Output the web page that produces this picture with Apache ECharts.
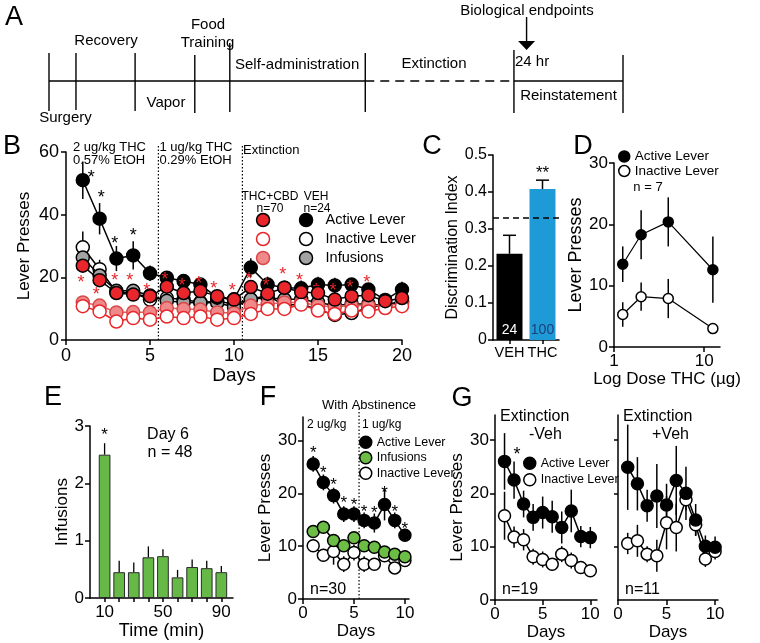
<!DOCTYPE html>
<html><head><meta charset="utf-8">
<script src="https://cdn.jsdelivr.net/npm/echarts@6/dist/echarts.min.js"></script>
<style>html,body{margin:0;padding:0;background:#fff}#c{width:760px;height:643px}</style>
</head><body><div id="c"></div>
<script>
const FONT = '"Liberation Sans", Arial, Helvetica, sans-serif';

// ---------- Panel A: timeline (schematic units) ----------
const tlTicks = [[0,28,-30],[4.7,28,-29],[15.0,28,-30],[25.4,26,-32],[31.5,38,-31],[55.1,28,-31],[81.0,31,-32],[100,26,-32]];
const tlSolid = [[0,55.1],[81.0,100]];
const tlDashed = [[55.1,81.0]];
const tlArrow = [[83.2,64,31]];

// ---------- Panel B ----------
const daysB = [1,2,3,4,5,6,7,8,9,10,11,12,13,14,15,16,17,18,19,20];
const bVehActive   = [51,38.7,26,27,21.3,19.9,18.8,17.7,13.5,13,23.1,17.7,16.7,16.5,17.7,17.4,17.7,16.1,12.8,16.1];
const bVehActiveErr= [6,5,4,4.5,2.5,2,2,2,2,2,3,2.5,2,2.5,2.5,2.5,2,2,2,2.5];
const bVehInactive = [29.6,22.6,15.3,15,12.9,13.4,12.9,12,12.4,11.5,12.9,14.3,11,11.5,9.7,8,8.6,10.3,11.3,12.3];
const bVehInactiveErr = [5,3,1.5,1.5,1,1,1,1,1,1,1.5,1.5,1,1,1,1,1,1,1.5,1.5];
const bVehInf      = [26.3,20.6,15.7,15.7,14.2,12.5,12,11.9,11.9,10.5,13,13.5,13,13,12,11,11.5,11.5,11,12];
const bThcActive   = [23.7,19.1,15,14.5,14,17,15,15.6,14,12.9,16.9,14.8,16.7,15.3,15,12.9,14,14.3,12.4,13.4];
const bThcInf      = [12,11,8.8,8.9,8.8,10.2,9.9,9.7,8.8,8.6,11,11.5,12,12,11,10.5,11,11,11,11.5];
const bThcInactive = [10.8,9.1,5.9,7,6.5,7.5,7,7.5,6.5,7,8.3,9.9,9.9,11.3,9.4,8.3,9.4,9.1,10.2,10.8];
const bBlackStars  = [[1.5,53],[2.1,46.5],[2.9,32],[4.0,34.5]];
const bRedStars    = [[0.9,19.5],[1.8,15.5],[2.9,20],[3.8,20],[4.8,17],[5.9,20.5],[6.9,18.5],[7.9,19],[8.8,17.5],[9.9,17],[10.9,20.5],[11.9,18.5],[12.9,22],[13.9,20],[14.9,17],[15.9,17],[16.9,18],[17.9,19.5]];
const bPhaseLines  = [5.5, 10.5];

// ---------- Panel C ----------
const cCats = ['VEH','THC'];
const cValues = [0.233, 0.408];
const cErr = [0.05, 0.024];
const cN = ['24','100'];
const cChance = 0.33;

// ---------- Panel D ----------
const dDoses = [1.25, 2, 4, 12.5];
const dActive = [13.5, 18.3, 20.4, 12.6];
const dActiveErr = [2.9, 4, 4, 5.4];
const dInactive = [5.3, 8.2, 7.9, 3.0];
const dInactiveErr = [2, 2.3, 3.2, 0.8];
const dDoseTicks = [1, 10];
const dDoseMax = 15;

// ---------- Panel E ----------
const eTimes = [10,20,30,40,50,60,70,80,90];
const eValues = [2.5,0.45,0.45,0.71,0.73,0.36,0.54,0.52,0.45];
const eErr = [0.2,0.2,0.17,0.19,0.12,0.13,0.13,0.13,0.11];
const eStars = [[10,2.9]];

// ---------- Panel F ----------
const daysF = [1,2,3,4,5,6,7,8,9,10];
const fActive = [25.6,22.1,19.6,16.1,16.1,14.9,14.4,17.9,14.9,12.1];
const fActiveErr = [1.5,1.5,1.5,1.5,1.5,1.5,1.8,3,1.5,1.2];
const fInf = [12.8,13.6,11.1,10.1,11.6,10.1,9.8,8.9,8.5,8.0];
const fInfErr = [0.8,0.8,0.8,0.8,0.8,0.8,0.8,0.8,0.8,0.8];
const fInactive = [10.1,8.3,9.0,6.6,8.8,6.6,6.6,8.2,5.9,7.3];
const fInactiveErr = [1.2,1.2,2.5,1.5,1.5,1.5,1,1.2,1,1.2];
const fStars = [[1,28.3],[2,24.5],[3,22.3],[4,18.8],[5,18.5],[6,17.2],[7,16.9],[8,20.8],[9,17.2],[10,14]];
const fPhaseLine = 5.5;

// ---------- Panel G ----------
const daysG = [1,2,3,4,5,6,7,8,9,10];
const gNoVehActive = [26,22.5,18,15.5,16.4,15.6,13.6,16.7,11.9,11.7];
const gNoVehActiveErr = [5.3,3.5,2.5,2.5,3,3,3,4,2,2];
const gNoVehInactive = [15.8,11.8,11.3,8.1,7.6,6.7,8.6,7.4,6.1,5.5];
const gNoVehInactiveErr = [4.5,2,2,1.5,1.5,1.2,1.5,1.5,1,0.8];
const gVehActive = [24.9,21.8,17.7,19.5,17.8,22.4,20,15,10.1,9.9];
const gVehActiveErr = [8,5,3,6,4,6.5,5,3,2,2];
const gVehInactive = [10.6,11.1,8.6,8.3,14.5,13.6,18.8,14.1,7.7,9.1];
const gVehInactiveErr = [2,3,1.5,3,5,4.5,2,2,1.5,1.5];
const gStars = [[2.3,28]];

// ---------- helpers ----------
const RED = '#e8262b';
const log10 = v => Math.log10(v);
function axisCommon(extra) {
  return Object.assign({
    axisLine:{show:true, onZero:false, lineStyle:{color:'#000', width:1.5}},
    axisTick:{show:true, length:5, lineStyle:{color:'#000', width:1.5}},
    axisLabel:{color:'#000', fontFamily:FONT, fontSize:17, margin:7},
    splitLine:{show:false},
    nameTextStyle:{color:'#000', fontFamily:FONT, fontSize:17},
    nameLocation:'middle'
  }, extra);
}
function pts(xs, ys){ return xs.map((x,i)=>[x, ys[i]]); }
function pointSeries(name, gi, xs, ys, o) {
  return {type:'line', name, xAxisIndex:gi, yAxisIndex:gi, data:pts(xs,ys),
    symbol:'circle', symbolSize:o.size, showSymbol:true, showAllSymbol:true,
    itemStyle:{color:o.fill, borderColor:o.border, borderWidth:o.bw||1.5, opacity:1},
    lineStyle:{color:o.line, width:o.lw||1.5}, z:o.z||3, zlevel:0,
    emphasis:{disabled:true}, animation:false, clip:false};
}
function errSeries(gi, xs, ys, es, o) {
  o = o || {};
  return {type:'custom', xAxisIndex:gi, yAxisIndex:gi, silent:true, z:o.z||2, animation:false,
    data: xs.map((x,i)=>[x, ys[i], es[i]]),
    renderItem:(p, api)=>{
      const x=api.value(0), y=api.value(1), e=api.value(2);
      const lo = api.coord([x, o.up ? y : y-e]), hi = api.coord([x, y+e]);
      const children=[{type:'line', shape:{x1:lo[0],y1:lo[1],x2:hi[0],y2:hi[1]}, style:{stroke:o.color||'#000', lineWidth:o.w||1.5}}];
      if (o.cap) children.push({type:'line', shape:{x1:hi[0]-o.cap,y1:hi[1],x2:hi[0]+o.cap,y2:hi[1]}, style:{stroke:o.color||'#000', lineWidth:o.w||1.5}});
      return {type:'group', children};
    }};
}
function starSeries(gi, list, color, size, txt) {
  return {type:'custom', xAxisIndex:gi, yAxisIndex:gi, silent:true, z:6, animation:false, clip:false,
    data:list,
    renderItem:(p, api)=>{
      const c = api.coord([api.value(0), api.value(1)]);
      return {type:'text', x:c[0], y:c[1]+size*0.22, style:{text:txt||'*', fill:color, font:size+'px '+FONT, align:'center', verticalAlign:'middle'}};
    }};
}
function segSeries(gi, segs, style) {
  return {type:'custom', xAxisIndex:gi, yAxisIndex:gi, silent:true, clip:false, animation:false,
    data:segs,
    renderItem:(p, api)=>{
      const a=api.coord([api.value(0),api.value(1)]), b=api.coord([api.value(2),api.value(3)]);
      return {type:'line', shape:{x1:a[0],y1:a[1],x2:b[0],y2:b[1]}, style:Object.assign({stroke:'#000', lineWidth:1.4}, style)};
    }};
}
function txt(text, x, y, size, align, extra) {
  return Object.assign({type:'text', x, y, silent:true, z:10,
    style:{text, fill:'#000', font:size+'px '+FONT, textAlign:align||'center', textVerticalAlign:'middle'}}, extra||{});
}

// ---------- grids ----------
const grids = [
  {left:49, top:1, width:574, height:120},   // A
  {left:66, top:152, width:336, height:188}, // B
  {left:493, top:155, width:66, height:185}, // C
  {left:614, top:163, width:106, height:184},// D
  {left:90, top:426, width:143, height:172}, // E
  {left:303, top:417, width:106, height:182},// F
  {left:495, top:415, width:102, height:185},// G left
  {left:618, top:415, width:100, height:185} // G right
];

const xAxes = [
  {type:'value', gridIndex:0, min:0, max:100, show:false},
  axisCommon({type:'value', gridIndex:1, min:0, max:20, interval:5, name:'Days', nameGap:25, nameTextStyle:{color:'#000',fontFamily:FONT,fontSize:19}, axisLabel:{color:'#000',fontFamily:FONT,fontSize:18,margin:7}}),
  axisCommon({type:'category', gridIndex:2, data:cCats, axisTick:{show:true,alignWithLabel:true,interval:0,length:4,lineStyle:{color:'#000',width:1.5}}, axisLabel:{color:'#000',fontFamily:FONT,fontSize:14.5,margin:5,interval:0}}),
  // log10 dose axis
  axisCommon({type:'value', gridIndex:3, min:0, max:log10(dDoseMax), name:'Log Dose THC (µg)', nameGap:18,
    axisLabel:{color:'#000',fontFamily:FONT,fontSize:17,margin:6, customValues:dDoseTicks.map(log10), formatter:v=>String(Math.round(Math.pow(10,v)))},
    axisTick:{show:true,length:5,lineStyle:{color:'#000',width:1.5}, customValues:dDoseTicks.map(log10)}}),
  axisCommon({type:'value', gridIndex:4, min:0, max:98, name:'Time (min)', nameGap:19, nameTextStyle:{color:'#000',fontFamily:FONT,fontSize:18}, axisLabel:{color:'#000',fontFamily:FONT,fontSize:17,margin:6, customValues:[10,50,90]}, axisTick:{show:true,length:4,lineStyle:{color:'#000',width:1.5}, customValues:eTimes}}),
  axisCommon({type:'value', gridIndex:5, min:0, max:10.4, name:'Days', nameGap:19, axisLabel:{color:'#000',fontFamily:FONT,fontSize:17,margin:6, customValues:[0,5,10]}, axisTick:{show:true,length:5,lineStyle:{color:'#000',width:1.5}, customValues:[0,5,10]}}),
  axisCommon({type:'value', gridIndex:6, min:0, max:10.7, name:'Days', nameGap:14, axisLabel:{color:'#000',fontFamily:FONT,fontSize:17,margin:6, customValues:[0,5,10]}, axisTick:{show:true,length:5,lineStyle:{color:'#000',width:1.5}, customValues:[0,5,10]}}),
  axisCommon({type:'value', gridIndex:7, min:0, max:10.3, name:'Days', nameGap:14, axisLabel:{color:'#000',fontFamily:FONT,fontSize:17,margin:6, customValues:[0,5,10]}, axisTick:{show:true,length:5,lineStyle:{color:'#000',width:1.5}, customValues:[0,5,10]}})
];
const yAxes = [
  {type:'value', gridIndex:0, min:-40, max:80, show:false},
  axisCommon({type:'value', gridIndex:1, min:0, max:60, interval:20, name:'Lever Presses', nameGap:33, axisLabel:{color:'#000',fontFamily:FONT,fontSize:18,margin:7}}),
  axisCommon({type:'value', gridIndex:2, min:0, max:0.5, interval:0.1, name:'Discrimination Index', nameGap:30, nameTextStyle:{color:'#000',fontFamily:FONT,fontSize:16}, axisLabel:{color:'#000',fontFamily:FONT,fontSize:16,margin:6, formatter:v=>v===0?'0':v.toFixed(1)}}),
  axisCommon({type:'value', gridIndex:3, min:0, max:30, interval:10, name:'Lever Presses', nameGap:19, nameTextStyle:{color:'#000',fontFamily:FONT,fontSize:18}, axisLabel:{color:'#000',fontFamily:FONT,fontSize:17,margin:6}}),
  axisCommon({type:'value', gridIndex:4, min:0, max:3, interval:1, name:'Infusions', nameGap:18, axisLabel:{color:'#000',fontFamily:FONT,fontSize:17,margin:6}}),
  axisCommon({type:'value', gridIndex:5, min:0, max:34.5, name:'Lever Presses', nameGap:28, axisLabel:{color:'#000',fontFamily:FONT,fontSize:17,margin:6, customValues:[0,10,20,30]}, axisTick:{show:true,length:5,lineStyle:{color:'#000',width:1.5}, customValues:[0,10,20,30]}}),
  axisCommon({type:'value', gridIndex:6, min:0, max:34.7, name:'Lever Presses', nameGap:28, axisLabel:{color:'#000',fontFamily:FONT,fontSize:17,margin:6, customValues:[0,10,20,30]}, axisTick:{show:true,length:5,lineStyle:{color:'#000',width:1.5}, customValues:[0,10,20,30]}}),
  axisCommon({type:'value', gridIndex:7, min:0, max:34.7, axisLabel:{show:false, customValues:[0,10,20,30]}, axisTick:{show:true,length:4,lineStyle:{color:'#000',width:1.5}, customValues:[10,20,30]}})
];

const series = [];
// --- A
series.push(segSeries(0, tlTicks.map(t=>[t[0],t[1],t[0],t[2]])));
series.push(segSeries(0, tlSolid.map(s=>[s[0],0,s[1],0])));
series.push(segSeries(0, tlDashed.map(s=>[s[0],0,s[1],0]), {lineDash:[9,6]}));
series.push({type:'custom', xAxisIndex:0, yAxisIndex:0, silent:true, clip:false, animation:false, data:tlArrow,
  renderItem:(p, api)=>{
    const top = api.coord([api.value(0), api.value(1)]), tip = api.coord([api.value(0), api.value(2)]);
    return {type:'group', children:[
      {type:'line', shape:{x1:top[0],y1:top[1],x2:tip[0],y2:tip[1]-6}, style:{stroke:'#000', lineWidth:1.4}},
      {type:'polygon', shape:{points:[[tip[0]-8.5,tip[1]-9],[tip[0]+8.5,tip[1]-9],[tip[0],tip[1]]]}, style:{fill:'#000'}}
    ]};
  }});

// --- B (drawing order: bottom to top)
series.push(errSeries(1, daysB, bVehInactive, bVehInactiveErr, {z:1}));
series.push(errSeries(1, daysB, bVehActive, bVehActiveErr, {z:1}));
series.push(pointSeries('B_vi', 1, daysB, bVehInactive, {size:13, fill:'#fff', border:'#000', line:'#000', z:2}));
series.push(pointSeries('B_vf', 1, daysB, bVehInf, {size:13, fill:'#a3a3a3', border:'#000', line:'#000', z:3}));
series.push(pointSeries('B_va', 1, daysB, bVehActive, {size:13, fill:'#000', border:'#000', line:'#000', z:4}));
series.push(pointSeries('B_tf', 1, daysB, bThcInf, {size:13, fill:'#f08a8a', border:'#d84848', line:'#e06060', z:5}));
series.push(pointSeries('B_ti', 1, daysB, bThcInactive, {size:13, fill:'#fff', border:RED, line:RED, z:6}));
series.push(pointSeries('B_ta', 1, daysB, bThcActive, {size:13, fill:RED, border:'#000', line:'#000', z:7}));
series.push(segSeries(1, bPhaseLines.map(x=>[x,0,x,62]), {lineDash:[1.5,2], lineWidth:1.2}));
series.push(starSeries(1, bBlackStars, '#000', 18));
series.push(starSeries(1, bRedStars, RED, 18));

// --- C
series.push({type:'bar', xAxisIndex:2, yAxisIndex:2, barWidth:26, animation:false, silent:true,
  data: cValues.map((v,i)=>({value:v, itemStyle:{color: i===0?'#000':'#1e9bd7'},
     label:{show:true, position:'insideBottom', distance:3, formatter:cN[i], color: i===0?'#fff':'#1c3f78', fontFamily:FONT, fontSize:14}})),
  markLine:{silent:true, symbol:'none', label:{show:false}, lineStyle:{color:'#000', type:[6,4], width:1.5}, data:[{yAxis:cChance}]}
});
series.push(errSeries(2, cCats, cValues, cErr, {up:true, cap:6.5, z:1}));
series.push(starSeries(2, [[1, 0.46]], '#000', 17, '**'));

// --- D (x = log10 dose)
const dX = dDoses.map(log10);
series.push(errSeries(3, dX, dActive, dActiveErr, {z:1}));
series.push(errSeries(3, dX, dInactive, dInactiveErr, {z:1}));
series.push(pointSeries('D_a', 3, dX, dActive, {size:10, fill:'#000', border:'#000', line:'#000', lw:1.2}));
series.push(pointSeries('D_i', 3, dX, dInactive, {size:10, fill:'#fff', border:'#000', line:'#000', lw:1.2}));

// --- E
series.push(errSeries(4, eTimes, eValues, eErr, {up:true, z:1, w:1.3}));
series.push({type:'bar', xAxisIndex:4, yAxisIndex:4, barWidth:11.7, animation:false, silent:true, z:2,
  itemStyle:{color:'#66b947', borderColor:'#2a2a2a', borderWidth:1},
  data: pts(eTimes, eValues)});
series.push(starSeries(4, eStars, '#000', 17));

// --- F
series.push(segSeries(5, [[fPhaseLine,0,fPhaseLine,36.5]], {lineDash:[1.5,2], lineWidth:1.2}));
series.push(errSeries(5, daysF, fInactive, fInactiveErr, {z:1}));
series.push(errSeries(5, daysF, fInf, fInfErr, {z:1}));
series.push(errSeries(5, daysF, fActive, fActiveErr, {z:1}));
series.push(pointSeries('F_i', 5, daysF, fInactive, {size:12, fill:'#fff', border:'#000', line:'#000'}));
series.push(pointSeries('F_f', 5, daysF, fInf, {size:12, fill:'#6cbd45', border:'#000', line:'#000'}));
series.push(pointSeries('F_a', 5, daysF, fActive, {size:12, fill:'#000', border:'#000', line:'#000'}));
series.push(starSeries(5, fStars, '#000', 17));

// --- G
series.push(errSeries(6, daysG, gNoVehInactive, gNoVehInactiveErr, {z:1}));
series.push(errSeries(6, daysG, gNoVehActive, gNoVehActiveErr, {z:1}));
series.push(pointSeries('G_i', 6, daysG, gNoVehInactive, {size:12, fill:'#fff', border:'#000', line:'#000'}));
series.push(pointSeries('G_a', 6, daysG, gNoVehActive, {size:12, fill:'#000', border:'#000', line:'#000'}));
series.push(starSeries(6, gStars, '#000', 18));
series.push(errSeries(7, daysG, gVehInactive, gVehInactiveErr, {z:1}));
series.push(errSeries(7, daysG, gVehActive, gVehActiveErr, {z:1}));
series.push(pointSeries('G2_i', 7, daysG, gVehInactive, {size:12, fill:'#fff', border:'#000', line:'#000'}));
series.push(pointSeries('G2_a', 7, daysG, gVehActive, {size:12, fill:'#000', border:'#000', line:'#000'}));

// ---------- legends ----------
const LBL = {B_va:'Active Lever', B_vi:'Inactive Lever', B_vf:'Infusions', D_a:'Active Lever', D_i:'Inactive Lever',
  F_a:'Active Lever', F_f:'Infusions', F_i:'Inactive Lever', G_a:'Active Lever', G_i:'Inactive Lever'};
function li(name, fill, border) { return {name, icon:'circle', itemStyle:{color:fill, borderColor:border, borderWidth:1.5}}; }
function legend(items, o) {
  return {orient:'vertical', left:o.left, top:o.top, itemWidth:o.iw, itemHeight:o.ih, itemGap:o.gap, padding:0,
    selectedMode:false, data:items, formatter: o.blank ? ()=>' ' : (n=>LBL[n]),
    textStyle:{color:'#000', fontFamily:FONT, fontSize:o.fs, lineHeight:o.lh}};
}
const legends = [
  legend([li('B_ta',RED,'#000'), li('B_ti','#fff',RED), li('B_tf','#f08a8a','#d84848')], {left:255.8, top:212.5, iw:13, ih:13, gap:4, fs:14.5, lh:15, blank:true}),
  legend([li('B_va','#000','#000'), li('B_vi','#fff','#000'), li('B_vf','#a3a3a3','#000')], {left:298.8, top:212.5, iw:29, ih:13, gap:4, fs:14.5, lh:15}),
  legend([li('D_a','#000','#000'), li('D_i','#fff','#000')], {left:618, top:149.5, iw:11, ih:11, gap:0.5, fs:13.5, lh:13}),
  legend([li('F_a','#000','#000'), li('F_f','#6cbd45','#000'), li('F_i','#fff','#000')], {left:359, top:435.5, iw:12, ih:12, gap:2, fs:12.5, lh:13}),
  legend([li('G_a','#000','#000'), li('G_i','#fff','#000')], {left:523, top:456.5, iw:12, ih:12, gap:3, fs:12.5, lh:13})
];

// ---------- text annotations ----------
const graphics = [
  txt('A', 14, 18, 27), txt('B', 12, 147, 27), txt('C', 432, 147, 27), txt('D', 583, 147, 27),
  txt('E', 53, 398, 27), txt('F', 268, 398, 27), txt('G', 462, 399, 27),
  // A
  txt('Surgery', 65.5, 118, 15), txt('Recovery', 106, 41, 15), txt('Vapor', 166, 103, 15),
  txt('Food', 208, 25, 15), txt('Training', 207.5, 42.5, 15), txt('Self-administration', 235, 65, 15, 'left'),
  txt('Extinction', 434, 64, 15), txt('24 hr', 515, 62, 15, 'left'), txt('Biological endpoints', 527, 11, 15),
  txt('Reinstatement', 568.5, 96, 15),
  // B
  txt('2 ug/kg THC', 73, 147, 13, 'left'), txt('0.57% EtOH', 73, 160.5, 13, 'left'),
  txt('1 ug/kg THC', 159.5, 147, 13, 'left'), txt('0.29% EtOH', 159.5, 160.5, 13, 'left'),
  txt('Extinction', 243, 150.5, 13, 'left'),
  txt('THC+CBD', 270, 197, 12), txt('n=70', 270, 208.5, 12), txt('VEH', 316, 197, 12), txt('n=24', 317, 208.5, 12),
  // D
  txt('n = 7', 648, 187, 13),
  // E
  txt('Day 6', 168, 435, 16), txt('n = 48', 170, 453, 16),
  // F
  txt('With Abstinence', 369, 405, 13), txt('2 ug/kg', 307, 425, 12, 'left'), txt('1 ug/kg', 362, 425, 12, 'left'),
  txt('n=30', 310, 590, 16, 'left'),
  // G
  txt('Extinction', 500, 417, 16, 'left'), txt('-Veh', 529, 435, 16, 'left'),
  txt('Extinction', 623, 417, 16, 'left'), txt('+Veh', 652, 435, 16, 'left'),
  txt('n=19', 502, 590, 16, 'left'), txt('n=11', 625, 590, 16, 'left')
];

const chart = echarts.init(document.getElementById('c'), null, {renderer:'canvas'});
chart.setOption({
  animation:false, backgroundColor:'#fff',
  textStyle:{fontFamily:FONT},
  grid:grids, xAxis:xAxes, yAxis:yAxes, series, legend:legends, graphic:graphics
});
</script></body></html>
